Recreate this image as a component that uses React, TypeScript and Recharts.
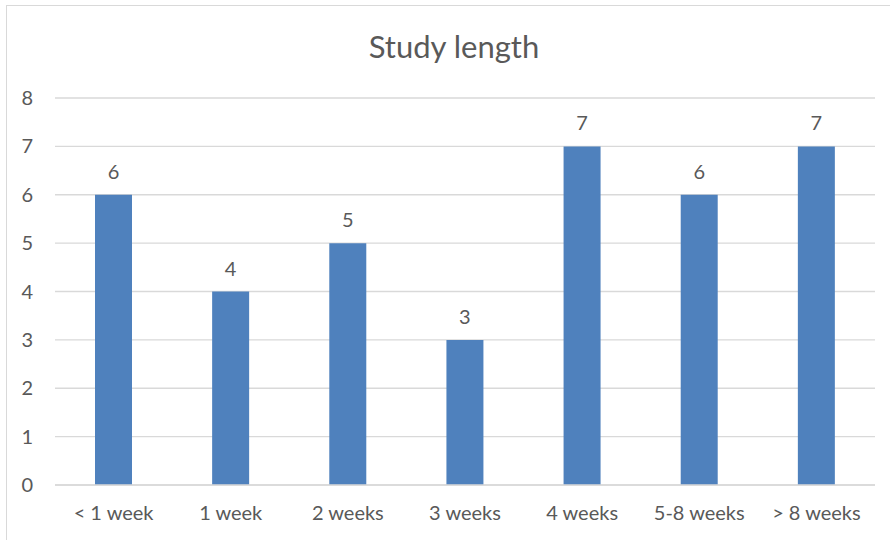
import React from "react";
import { BarChart, Bar, XAxis, YAxis, CartesianGrid, LabelList } from "recharts";

const categories = ["< 1 week", "1 week", "2 weeks", "3 weeks", "4 weeks", "5-8 weeks", "> 8 weeks"];
const counts = [6, 4, 5, 3, 7, 6, 7];
const yTicks = [0, 1, 2, 3, 4, 5, 6, 7, 8];

const FONT = "Lato, 'Open Sans', sans-serif";
const TEXT = "#595959";

export default function App() {
  const data = categories.map((name, i) => ({ name, value: counts[i] }));
  return (
    <div style={{ position: "fixed", left: 0, top: 0, width: 890, height: 540, overflow: "hidden", background: "#fff", fontFamily: FONT }}>
      {/* chart frame runs off the right and bottom edges */}
      <div style={{ position: "absolute", left: 6, top: 5, width: 950, height: 600, border: "1.5px solid #d9d9d9", boxSizing: "border-box" }} />
      <div style={{ position: "absolute", left: 0, top: 27, width: 908, textAlign: "center", fontSize: 31, color: TEXT }}>
        Study length
      </div>
      <div style={{ position: "absolute", left: 0, top: 0 }}>
        <BarChart width={890} height={540} data={data} margin={{ top: 98, right: 15, bottom: 15, left: 15 }}>
          <CartesianGrid vertical={false} stroke="#d9d9d9" strokeWidth={1.3} />
          <XAxis
            dataKey="name"
            height={40}
            tickLine={false}
            axisLine={{ stroke: "#d9d9d9", strokeWidth: 1.3 }}
            tickSize={0}
            tickMargin={21}
            tick={{ fill: TEXT, fontSize: 20, fontFamily: FONT }}
            interval={0}
          />
          <YAxis
            width={40}
            domain={[0, 8]}
            ticks={yTicks}
            axisLine={false}
            tickLine={false}
            tickSize={0}
            tickMargin={22}
            tick={{ fill: TEXT, fontSize: 20, fontFamily: FONT }}
          />
          <Bar dataKey="value" fill="#4f81bd" barSize={37} isAnimationActive={false}>
            <LabelList dataKey="value" position="top" offset={16} fill={TEXT} fontSize={20} fontFamily={FONT} />
          </Bar>
        </BarChart>
      </div>
    </div>
  );
}
